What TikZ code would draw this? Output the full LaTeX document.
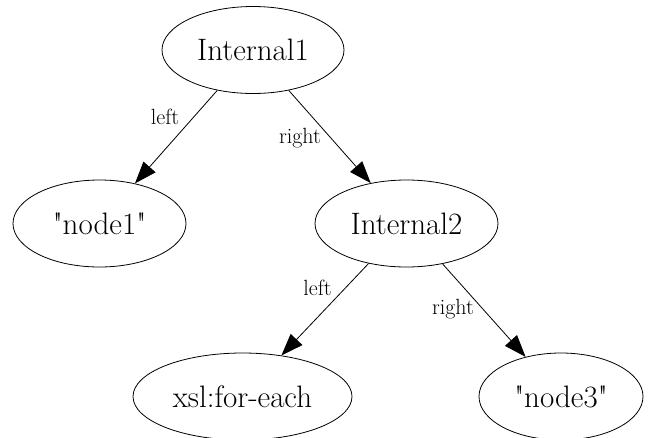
\documentclass[tikz,border=0pt]{standalone}
\usetikzlibrary{shapes.geometric,arrows.meta}
\begin{document}
\begin{tikzpicture}[x=1pt,y=-1pt,
  treenode/.style={draw,ellipse,inner sep=0pt,minimum height=87pt,line width=0.8pt,
    font=\fontsize{31}{36}\selectfont},
  edgelabel/.style={inner sep=0pt,font=\fontsize{22}{26}\selectfont},
  link/.style={draw,line width=0.8pt,-{Triangle[length=22pt,width=16pt]}}]
\useasboundingbox (0,0) rectangle (648,437);
\clip (0,0) rectangle (648,437);
% tree nodes
\node[treenode,minimum width=182pt] (int1) at (253,50) {Internal1};
\node[treenode,minimum width=173pt] (n1) at (99.5,223.5) {\textquotedbl node1\textquotedbl};
\node[treenode,minimum width=183pt] (int2) at (406.5,223.5) {Internal2};
\node[treenode,minimum width=219pt] (xsl) at (242.5,396.5) {xsl:for-each};
\node[treenode,minimum width=164pt] (n3) at (561,396.5) {\textquotedbl node3\textquotedbl};
% connectors
\path[link] (int1) -- (n1);
\path[link] (int1) -- (int2);
\path[link] (int2) -- (xsl);
\path[link] (int2) -- (n3);
% edge labels
\node[edgelabel] (l1) at (165,117) {left};
\node[edgelabel] (r1) at (300,138) {right};
\node[edgelabel] (l2) at (317.5,288) {left};
\node[edgelabel] (r2) at (453,309) {right};
\end{tikzpicture}
\end{document}
